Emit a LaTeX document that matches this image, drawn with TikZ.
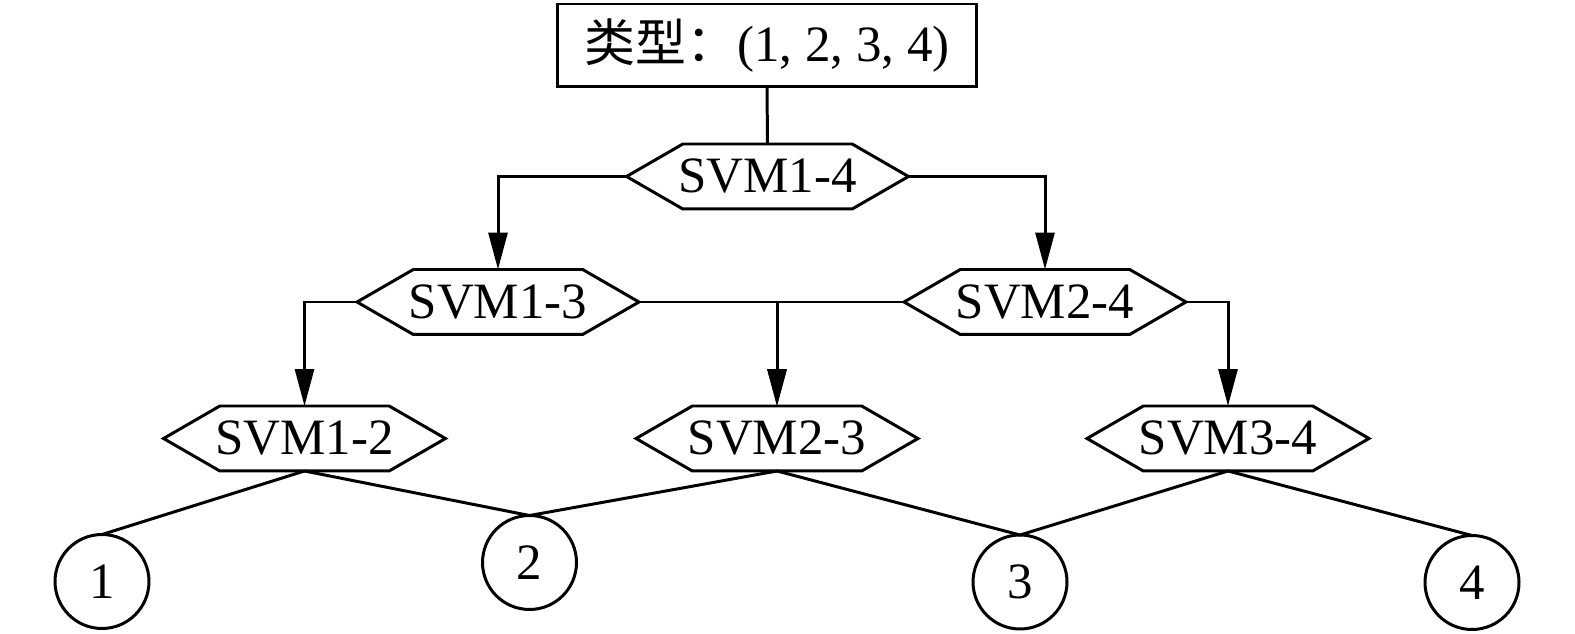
\documentclass[tikz,border=0pt]{standalone}
\usepackage{fontspec}
\setmainfont{Liberation Serif}
\newfontfamily\cjk{Noto Sans CJK SC}
\usetikzlibrary{positioning,shapes.symbols,arrows.meta}

\begin{document}
\begin{tikzpicture}[x=0.02cm,y=-0.02cm,line width=1.7pt,
  >={Triangle[length=0.74cm,width=0.38cm]},
  font=\fontsize{29}{34}\selectfont]
   \tikzset{svm/.style = {signal, signal to=west and east, signal pointer angle=60, draw, fill=white, minimum height=1.3cm, inner xsep=-0.09cm, inner ysep=0pt, outer sep=0pt}, }
   \tikzset{cls/.style = {circle, draw, minimum size=1.88cm, inner sep=0pt, outer sep=0pt}, }
   \tikzset{typebox/.style = {rectangle, draw, minimum width=8.38cm, minimum height=1.66cm, inner sep=0pt, outer sep=0pt} }
   \useasboundingbox (0,0) rectangle (1575,634);
   \node[typebox] (type) at (767,45.5) {{\cjk 类型：}(1, 2, 3, 4)};
   \node[svm] (s14) at (767.5,176.5) {SVM1-4};
   \node[svm] (s13) at (498,302) {SVM1-3};
   \node[svm] (s24) at (1045,302) {SVM2-4};
   \node[svm] (s12) at (304.5,438.5) {SVM1-2};
   \node[svm] (s23) at (777,438.5) {SVM2-3};
   \node[svm] (s34) at (1228,438.5) {SVM3-4};
   \node[cls] (c1) at (102,581.5) {1};
   \node[cls] (c2) at (529.5,562.5) {2};
   \node[cls] (c3) at (1020,582) {3};
   \node[cls] (c4) at (1472,582.5) {4};

   % decisions
   \draw (type.south) -- (s14.north);
   \draw[->] (s14.west) -| (s13.north);
   \draw[->] (s14.east) -| (s24.north);
   \draw[->] (s13.west) -| (s12.north);
   \draw[->] (s13.east) -| (s23.north);
   \draw[->] (s24.west) -| (s23.north);
   \draw[->] (s24.east) -| (s34.north);

   % classes
   \draw (s12.south) -- (c1.north);
   \draw (s12.south) -- (c2.north);
   \draw (s23.south) -- (c2.north);
   \draw (s23.south) -- (c3.north);
   \draw (s34.south) -- (c3.north);
   \draw (s34.south) -- (c4.north);
\end{tikzpicture}
\end{document}
